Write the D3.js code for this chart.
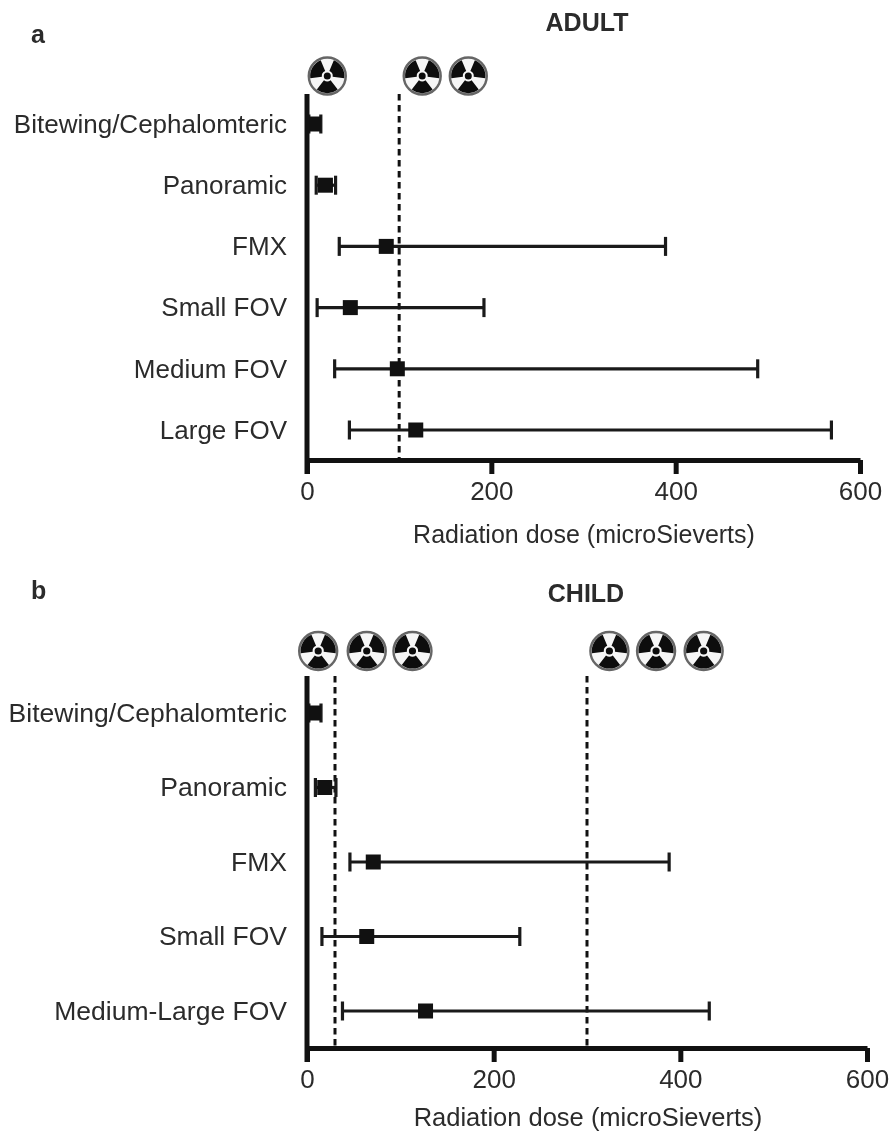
<!DOCTYPE html>
<html>
<head>
<meta charset="utf-8">
<script src="https://cdn.jsdelivr.net/npm/d3@7"></script>
<style>
  html, body { margin: 0; padding: 0; background: #fff; }
  svg { display: block; filter: blur(0.4px); }
  text { font-family: "Liberation Sans", Arial, sans-serif; fill: #2b2b2b; }
</style>
</head>
<body>
<div id="chart"></div>
<script>
var xTicks = [0, 200, 400, 600];

var adultCategories = ["Bitewing/Cephalomteric", "Panoramic", "FMX", "Small FOV", "Medium FOV", "Large FOV"];
var adultLow = [2, 10, 35, 11, 30, 46];
var adultMid = [7, 20, 86, 47, 98, 118];
var adultHigh = [15, 31, 389, 192, 489, 569];
var adultCutoffs = [100];
var adultIcons = [22, 125, 175];

var childCategories = ["Bitewing/Cephalomteric", "Panoramic", "FMX", "Small FOV", "Medium-Large FOV"];
var childLow = [2, 9, 46, 16, 38];
var childMid = [7, 19, 71, 64, 127];
var childHigh = [15, 31, 388, 228, 431];
var childCutoffs = [30, 300];
var childIcons = [12, 64, 113, 324, 374, 425];

var svg = d3.select("#chart").append("svg")
    .attr("width", 891)
    .attr("height", 1133);

var radiationArc = d3.arc();

function drawIcon(g, cx, cy, r) {
  var icon = g.append("g").attr("transform", "translate(" + cx + "," + cy + ")");
  icon.append("circle").attr("r", r - 1).attr("fill", "#f6f6f6").attr("stroke", "#666").attr("stroke-width", 2.4);
  [-60, 60, 180].forEach(function(a) {
    var mid = a * Math.PI / 180;
    icon.append("path")
        .attr("fill", "#0d0d0d")
        .attr("d", radiationArc({innerRadius: r * 0.28, outerRadius: r * 0.88, startAngle: mid - Math.PI / 4.8, endAngle: mid + Math.PI / 4.8}));
  });
  icon.append("circle").attr("r", r * 0.18).attr("fill", "#0d0d0d");
}

function drawPanel(opt) {
  var x = d3.scaleLinear().domain([0, 600]).range(opt.xRange);
  var y = d3.scalePoint().domain(opt.categories).range(opt.yRange);
  var g = svg.append("g");

  // dashed cutoffs go under the marks
  g.selectAll(".cutoff")
      .data(opt.cutoffs)
    .enter().append("line")
      .attr("class", "cutoff")
      .attr("x1", function(d) { return x(d); })
      .attr("x2", function(d) { return x(d); })
      .attr("y1", opt.top)
      .attr("y2", opt.axisY)
      .attr("stroke", "#111")
      .attr("stroke-width", 3)
      .attr("stroke-dasharray", "6.5,4.5");

  var rows = g.selectAll(".row")
      .data(opt.categories)
    .enter().append("g")
      .attr("class", "row")
      .attr("transform", function(d) { return "translate(0," + y(d) + ")"; });

  rows.append("line")
      .attr("x1", function(d, i) { return x(opt.low[i]); })
      .attr("x2", function(d, i) { return x(opt.high[i]); })
      .attr("stroke", "#1a1a1a")
      .attr("stroke-width", 3.2);

  [opt.low, opt.high].forEach(function(vals) {
    rows.append("line")
        .attr("x1", function(d, i) { return x(vals[i]); })
        .attr("x2", function(d, i) { return x(vals[i]); })
        .attr("y1", -9.5)
        .attr("y2", 9.5)
        .attr("stroke", "#1a1a1a")
        .attr("stroke-width", 3.2);
  });

  rows.append("rect")
      .attr("x", function(d, i) { return x(opt.mid[i]) - 7.5; })
      .attr("y", -7.5)
      .attr("width", 15)
      .attr("height", 15)
      .attr("fill", "#111");

  // axes
  var xAxis = g.append("g")
      .attr("transform", "translate(0," + opt.axisY + ")")
      .call(d3.axisBottom(x).tickValues(xTicks).tickSize(14).tickPadding(8).tickSizeOuter(0));
  xAxis.select(".domain").attr("stroke", "#111").attr("stroke-width", 5);
  xAxis.selectAll(".tick line").attr("stroke", "#111").attr("stroke-width", 5);
  xAxis.selectAll("text").attr("font-size", 26).style("font-family", '"Liberation Sans", Arial, sans-serif');

  var yAxis = g.append("g")
      .attr("transform", "translate(" + opt.xRange[0] + ",0)")
      .call(d3.axisLeft(y).tickSize(0).tickPadding(20));
  yAxis.select(".domain").remove();
  yAxis.append("line")
      .attr("y1", opt.top)
      .attr("y2", opt.axisY + 14)
      .attr("stroke", "#111")
      .attr("stroke-width", 5);
  yAxis.selectAll(".tick text").attr("font-size", opt.catSize).style("font-family", '"Liberation Sans", Arial, sans-serif');

  g.append("text")
      .attr("x", opt.labelX)
      .attr("y", opt.labelY)
      .attr("text-anchor", "middle")
      .attr("font-size", opt.labelSize)
      .text("Radiation dose (microSieverts)");

  g.append("text")
      .attr("x", opt.titleX)
      .attr("y", opt.titleY)
      .attr("text-anchor", "middle")
      .attr("font-size", 25)
      .attr("font-weight", "bold")
      .text(opt.title);

  g.append("text")
      .attr("x", 31)
      .attr("y", opt.letterY)
      .attr("font-size", 25)
      .attr("font-weight", "bold")
      .text(opt.letter);

  opt.icons.forEach(function(d) { drawIcon(g, x(d), opt.iconY, opt.iconR); });
}

drawPanel({
  categories: adultCategories, low: adultLow, mid: adultMid, high: adultHigh,
  cutoffs: adultCutoffs, icons: adultIcons, catSize: 26,
  xRange: [307, 860], yRange: [124, 430], axisY: 460, top: 94,
  iconY: 76, iconR: 19.5, labelX: 584, labelY: 543, labelSize: 25,
  title: "ADULT", titleX: 587, titleY: 31,
  letter: "a", letterY: 43
});

drawPanel({
  categories: childCategories, low: childLow, mid: childMid, high: childHigh,
  cutoffs: childCutoffs, icons: childIcons, catSize: 26.5,
  xRange: [307, 867], yRange: [713, 1011], axisY: 1048, top: 676,
  iconY: 651, iconR: 20, labelX: 588, labelY: 1126, labelSize: 25.5,
  title: "CHILD", titleX: 586, titleY: 602,
  letter: "b", letterY: 599
});
</script>
</body>
</html>
